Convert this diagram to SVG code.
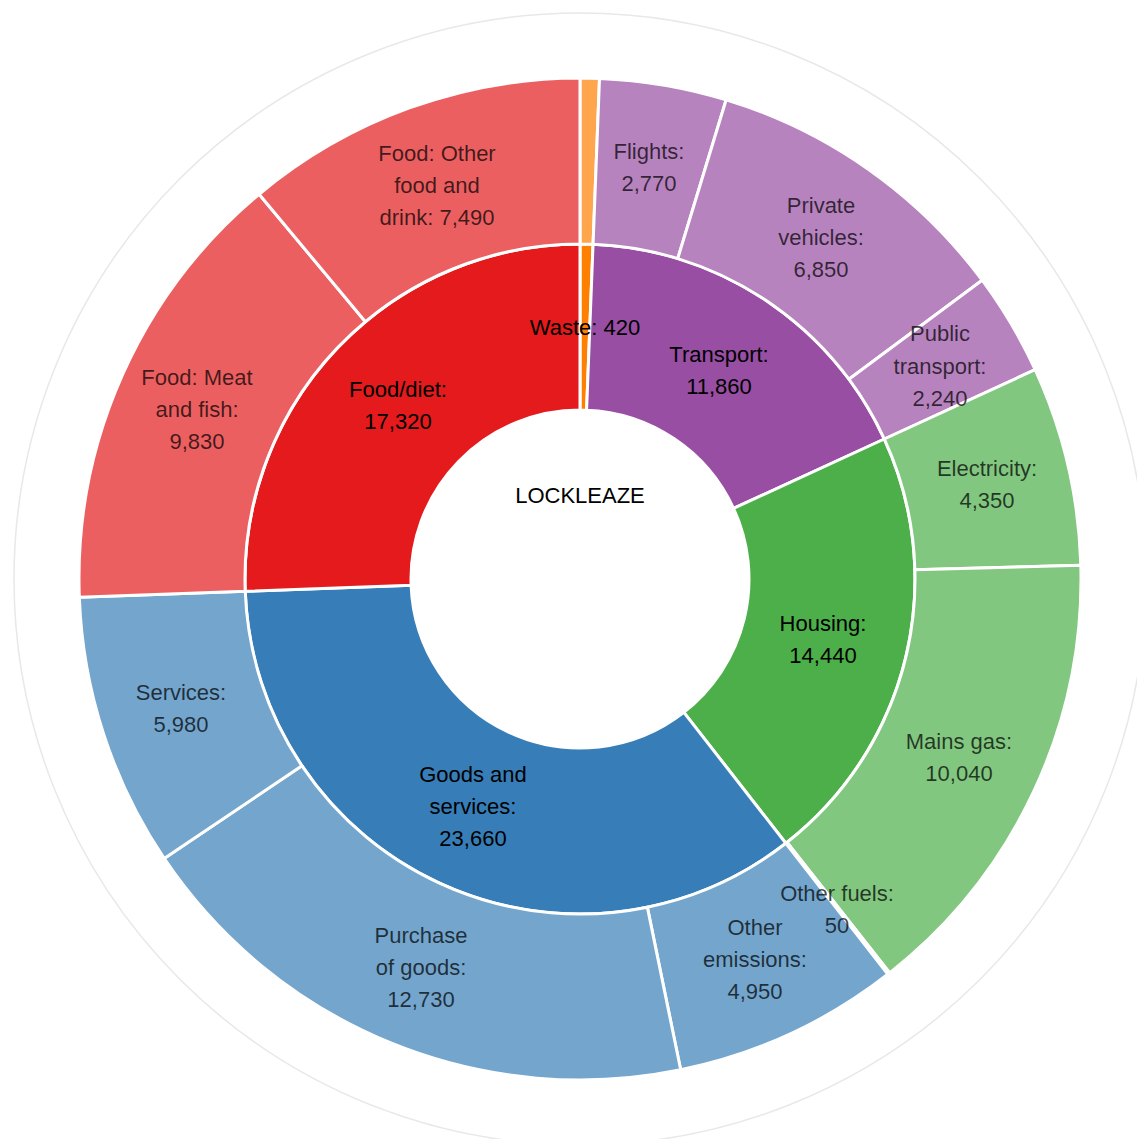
<svg xmlns="http://www.w3.org/2000/svg" width="1137" height="1139" viewBox="0 0 1137 1139">
<style>
.seg{stroke:#fff;stroke-width:3;stroke-linejoin:round}
text{font-family:"Liberation Sans",Arial,sans-serif;font-size:22px;text-anchor:middle}
.lo{fill:#000;fill-opacity:0.72}
.li{fill:#000}
</style>
<rect width="1137" height="1139" fill="#fff"/>
<circle cx="580" cy="579" r="566" fill="none" stroke="#e8e8e8" stroke-width="1.5"/>
<g id="inner">
<g id="waste"><path class="seg" fill="#ff7f00" d="M580,244 A335,335 0 0 1 593.05,244.25 L586.59,410.13 A169,169 0 0 0 580,410 Z"/></g>
<g id="transport"><path class="seg" fill="#984ea3" d="M593.05,244.25 A335,335 0 0 1 884.35,439.01 L733.54,508.38 A169,169 0 0 0 586.59,410.13 Z"/></g>
<g id="housing"><path class="seg" fill="#4daf4a" d="M884.35,439.01 A335,335 0 0 1 785.85,843.29 L683.85,712.33 A169,169 0 0 0 733.54,508.38 Z"/></g>
<g id="goods"><path class="seg" fill="#377eb8" d="M785.85,843.29 A335,335 0 0 1 245.23,591.28 L411.11,585.19 A169,169 0 0 0 683.85,712.33 Z"/></g>
<g id="food"><path class="seg" fill="#e41a1c" d="M245.23,591.28 A335,335 0 0 1 580,244 L580,410 A169,169 0 0 0 411.11,585.19 Z"/></g>
</g>
<g id="outer">
<g id="waste-o"><path class="seg" fill="#ffa54d" d="M580,78 A501,501 0 0 1 599.52,78.38 L593.05,244.25 A335,335 0 0 0 580,244 Z"/></g>
<g id="flights"><path class="seg" fill="#b783bf" d="M599.52,78.38 A501,501 0 0 1 726.17,99.80 L677.74,258.57 A335,335 0 0 0 593.05,244.25 Z"/></g>
<g id="private"><path class="seg" fill="#b783bf" d="M726.17,99.80 A501,501 0 0 1 982.16,280.20 L848.91,379.21 A335,335 0 0 0 677.74,258.57 Z"/></g>
<g id="public"><path class="seg" fill="#b783bf" d="M982.16,280.20 A501,501 0 0 1 1035.17,369.65 L884.35,439.01 A335,335 0 0 0 848.91,379.21 Z"/></g>
<g id="electricity"><path class="seg" fill="#82c780" d="M1035.17,369.65 A501,501 0 0 1 1080.81,565.28 L914.87,569.83 A335,335 0 0 0 884.35,439.01 Z"/></g>
<g id="mainsgas"><path class="seg" fill="#82c780" d="M1080.81,565.28 A501,501 0 0 1 889.69,972.82 L787.08,842.34 A335,335 0 0 0 914.87,569.83 Z"/></g>
<g id="otherfuels"><path class="seg" fill="#82c780" d="M889.69,972.82 A501,501 0 0 1 887.86,974.26 L785.85,843.29 A335,335 0 0 0 787.08,842.34 Z"/></g>
<g id="otheremissions"><path class="seg" fill="#73a5cd" d="M887.86,974.26 A501,501 0 0 1 680.67,1069.78 L647.32,907.17 A335,335 0 0 0 785.85,843.29 Z"/></g>
<g id="purchase"><path class="seg" fill="#73a5cd" d="M680.67,1069.78 A501,501 0 0 1 164.16,858.43 L301.94,765.84 A335,335 0 0 0 647.32,907.17 Z"/></g>
<g id="services"><path class="seg" fill="#73a5cd" d="M164.16,858.43 A501,501 0 0 1 79.34,597.36 L245.23,591.28 A335,335 0 0 0 301.94,765.84 Z"/></g>
<g id="meat"><path class="seg" fill="#ec5f60" d="M79.34,597.36 A501,501 0 0 1 259.11,194.25 L365.43,321.73 A335,335 0 0 0 245.23,591.28 Z"/></g>
<g id="otherfood"><path class="seg" fill="#ec5f60" d="M259.11,194.25 A501,501 0 0 1 580,78 L580,244 A335,335 0 0 0 365.43,321.73 Z"/></g>
</g>
<g id="labels">
<text class="li" x="580" y="503">LOCKLEAZE</text>
<text class="lo" x="437" y="161">Food: Other</text>
<text class="lo" x="437" y="193">food and</text>
<text class="lo" x="437" y="225">drink: 7,490</text>
<text class="lo" x="197" y="385">Food: Meat</text>
<text class="lo" x="197" y="417">and fish:</text>
<text class="lo" x="197" y="449">9,830</text>
<text class="lo" x="649" y="159">Flights:</text>
<text class="lo" x="649" y="191">2,770</text>
<text class="lo" x="821" y="213">Private</text>
<text class="lo" x="821" y="245">vehicles:</text>
<text class="lo" x="821" y="277">6,850</text>
<text class="lo" x="940" y="341">Public</text>
<text class="lo" x="940" y="374">transport:</text>
<text class="lo" x="940" y="406">2,240</text>
<text class="lo" x="987" y="476">Electricity:</text>
<text class="lo" x="987" y="508">4,350</text>
<text class="lo" x="959" y="749">Mains gas:</text>
<text class="lo" x="959" y="781">10,040</text>
<text class="lo" x="837" y="901">Other fuels:</text>
<text class="lo" x="837" y="933">50</text>
<text class="lo" x="755" y="935">Other</text>
<text class="lo" x="755" y="967">emissions:</text>
<text class="lo" x="755" y="999">4,950</text>
<text class="lo" x="421" y="943">Purchase</text>
<text class="lo" x="421" y="975">of goods:</text>
<text class="lo" x="421" y="1007">12,730</text>
<text class="lo" x="181" y="700">Services:</text>
<text class="lo" x="181" y="732">5,980</text>
<text class="li" x="585" y="335">Waste: 420</text>
<text class="li" x="719" y="362">Transport:</text>
<text class="li" x="719" y="394">11,860</text>
<text class="li" x="398" y="397">Food/diet:</text>
<text class="li" x="398" y="429">17,320</text>
<text class="li" x="823" y="631">Housing:</text>
<text class="li" x="823" y="663">14,440</text>
<text class="li" x="473" y="782">Goods and</text>
<text class="li" x="473" y="814">services:</text>
<text class="li" x="473" y="846">23,660</text>
</g>
</svg>
